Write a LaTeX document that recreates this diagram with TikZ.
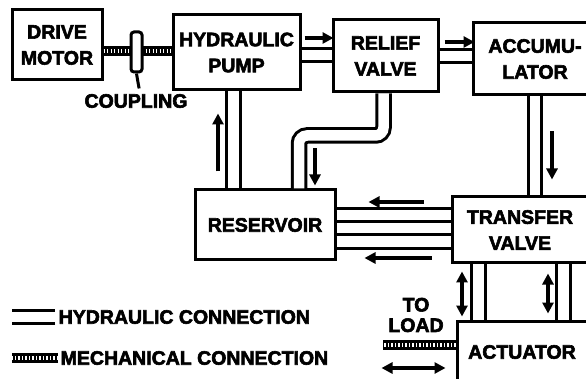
\documentclass[tikz,border=0pt]{standalone}
\usepackage{fontspec}
\setmainfont[BoldFeatures={FakeBold=3}]{Liberation Sans}
\usetikzlibrary{arrows.meta}
\begin{document}
\begin{tikzpicture}[x=1pt, y=-1pt,
    lab/.style={font=\fontsize{19.5}{26}\selectfont\bfseries, align=center, inner sep=0.5pt},
    box/.style={lab, draw=black, line width=3pt, inner sep=0pt},
    pipe/.style={draw=black, line width=3pt, double=white, double distance=10.5pt},
    mech/.style={draw=black, line width=10pt,
      postaction={draw=white, line width=4pt, dash pattern=on 1.3pt off 2.2pt}},
    flow/.style={draw=black, line width=3.4pt, -{Triangle[length=11pt, width=11pt]}},
    flowboth/.style={draw=black, line width=3.4pt,
      {Triangle[length=11pt, width=11pt]}-{Triangle[length=11pt, width=11pt]}}]
  \useasboundingbox (0,0) rectangle (586,379);

  % blocks
  \node[box, minimum width=90pt, minimum height=70pt] (motor) at (57,45) {DRIVE\\MOTOR};
  \node[box, minimum width=127pt, minimum height=75pt] (pump) at (236.5,52.5) {HYDRAULIC\\PUMP};
  \node[box, minimum width=105pt, minimum height=72pt] (relief) at (385.5,56) {RELIEF\\VALVE};
  \node[box, minimum width=124pt, minimum height=72pt] (accum) at (535,59) {ACCUMU-\\LATOR};
  \node[box, minimum width=140pt, minimum height=70pt] (res) at (265,225) {RESERVOIR};
  \node[box, minimum width=136pt, minimum height=66pt] (transfer) at (520,230) {TRANSFER\\VALVE};
  \node[box, minimum width=130pt, minimum height=62pt] (actuator) at (522,352) {ACTUATOR};

  % mechanical drive
  \draw[mech] ([yshift=-6pt]motor.east) -- ([yshift=-6pt]motor.east -| pump.west);
  \node[draw=black, fill=white, line width=3pt, rounded corners=3pt,
        minimum width=11pt, minimum height=40pt, inner sep=0pt] (coupling) at (136.5,52) {};
  \node[lab] (couplabel) at (136,101) {COUPLING};
  \draw[line width=3pt, shorten >=5pt] (coupling.south) -- ++(1,6) -- ([xshift=4pt]couplabel.north);

  % hydraulic lines
  \draw[pipe] ([yshift=-2.5pt]pump.east) -- ([yshift=-2.5pt]pump.east -| relief.west);
  \draw[pipe] (relief.east) -- (relief.east -| accum.west);
  \draw[pipe] ([xshift=-3pt]pump.south) -- ([xshift=-3pt]pump.south |- res.north);
  \draw[pipe, rounded corners=8pt] ([xshift=-2pt]relief.south) -- ++(0,42)
    -| ([xshift=34pt]res.north);
  \draw[pipe] (accum.south) -- (accum.south |- transfer.north);
  \draw[pipe] ([yshift=10pt]res.east) -- ([yshift=10pt]res.east -| transfer.west);
  \draw[pipe] ([yshift=-16.5pt]res.east) -- ([yshift=-16.5pt]res.east -| transfer.west);
  \draw[pipe] ([xshift=-41.5pt]transfer.south) -- ([xshift=-41.5pt]transfer.south |- actuator.north);
  \draw[pipe] ([xshift=43.5pt]transfer.south) -- ([xshift=43.5pt]transfer.south |- actuator.north);

  % flow arrows
  \draw[flow] ([shift={(3,-14.5)}]pump.east) -- ++(29,0);
  \draw[flow] ([shift={(5,-14)}]relief.east) -- ++(30,0);
  \draw[flow] ([shift={(-18.5,80)}]pump.south) -- ++(0,-58);
  \draw[flow] ([shift={(50,-40)}]res.north) -- ++(0,37);
  \draw[flow] ([shift={(17,35)}]accum.south) -- ++(0,48);
  \draw[flow] ([shift={(87,-23)}]res.east) -- ++(-55,0);
  \draw[flow] ([shift={(95,33)}]res.east) -- ++(-67,0);
  \draw[flowboth] ([shift={(-58,7)}]transfer.south) -- ++(0,45);
  \draw[flowboth] ([shift={(28,9)}]transfer.south) -- ++(0,40);

  % load
  \coordinate (load) at (383,345);
  \node[lab, font=\fontsize{19.5}{20.5}\selectfont\bfseries] (toload) at (416,315) {TO\\LOAD};
  \draw[mech] ([yshift=7pt]actuator.west) -- (load);
  \draw[flowboth] ([shift={(-74,16)}]actuator.west) -- ++(64,0);

  % legend
  \node[lab, anchor=west] (hydlabel) at (58,317) {HYDRAULIC CONNECTION};
  \draw[pipe] ([xshift=-3pt]hydlabel.west) -- ++(-43,0);
  \node[lab, anchor=west] (mechlabel) at (60,358) {MECHANICAL CONNECTION};
  \draw[mech] ([xshift=-2pt]mechlabel.west) -- ++(-46,0);
\end{tikzpicture}
\end{document}
